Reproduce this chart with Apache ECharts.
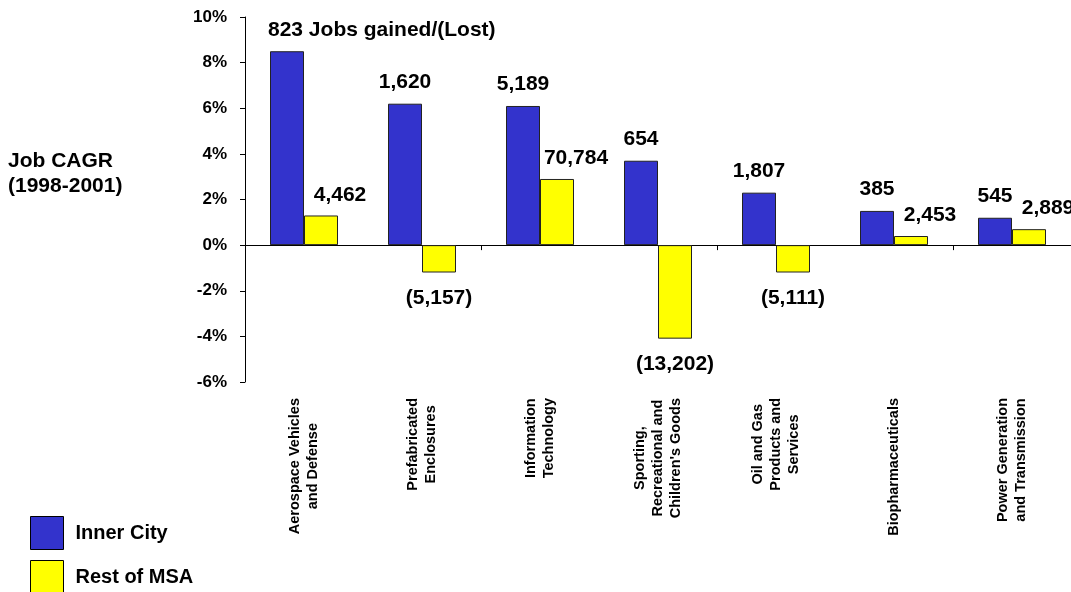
<!DOCTYPE html>
<html>
<head>
<meta charset="utf-8">
<script src="https://cdn.jsdelivr.net/npm/echarts@6/dist/echarts.min.js"></script>
<style>
  html, body { margin: 0; padding: 0; background: #ffffff; }
  #chart { width: 1071px; height: 592px; }
</style>
</head>
<body>
<div id="chart"></div>
<script>
// Industry clusters
const categories = [
  'Aerospace Vehicles\nand Defense',
  'Prefabricated\nEnclosures',
  'Information\nTechnology',
  "Sporting,\nRecreational and\nChildren's Goods",
  'Oil and Gas\nProducts and\nServices',
  'Biopharmaceuticals',
  'Power Generation\nand Transmission'
];

// Job CAGR 1998-2001, percent
const innerCityCagr = [8.5, 6.2, 6.1, 3.7, 2.3, 1.5, 1.2];
const restOfMsaCagr = [1.3, -1.2, 2.9, -4.1, -1.2, 0.4, 0.7];

// Jobs gained / (lost)
const innerCityJobs = [823, 1620, 5189, 654, 1807, 385, 545];
const restOfMsaJobs = [4462, -5157, 70784, -13202, -5111, 2453, 2889];

// Y axis ticks
const yMin = -6, yMax = 10, yStep = 2;

const FONT = "'Liberation Sans', Arial, Helvetica, sans-serif";

function fmtJobs(n) {
  const s = Math.abs(n).toLocaleString('en-US');
  return n < 0 ? '(' + s + ')' : s;
}

const chart = echarts.init(document.getElementById('chart'), null, { renderer: 'canvas' });

const barLabel = {
  show: true,
  fontFamily: FONT,
  fontWeight: 'bold',
  fontSize: 21,
  color: '#000'
};

const innerData = innerCityCagr.map((v, i) => {
  const item = {
    value: v,
    label: {
      position: 'top',
      distance: 11,
      formatter: () => i === 0 ? fmtJobs(innerCityJobs[i]) + ' Jobs gained/(Lost)' : fmtJobs(innerCityJobs[i])
    }
  };
  if (i === 0) {
    item.label.align = 'left';
    item.label.offset = [-19, 0];
  }
  return item;
});

const restData = restOfMsaCagr.map((v, i) => ({
  value: v,
  label: v >= 0
    ? { position: 'top', distance: 10, offset: [19, 0], formatter: () => fmtJobs(restOfMsaJobs[i]) }
    : { position: 'bottom', distance: 15, formatter: () => fmtJobs(restOfMsaJobs[i]) }
}));

const option = {
  backgroundColor: '#ffffff',
  animation: false,
  textStyle: { fontFamily: FONT },
  title: {
    text: 'Job CAGR\n(1998-2001)',
    left: 8,
    top: 149,
    padding: 0,
    textStyle: {
      fontFamily: FONT,
      fontWeight: 'bold',
      fontSize: 21,
      lineHeight: 25,
      color: '#000'
    }
  },
  legend: {
    orient: 'vertical',
    left: 30,
    top: 516,
    height: 90,
    padding: 0,
    itemWidth: 33,
    itemHeight: 33,
    itemGap: 10,
    icon: 'rect',
    selectedMode: false,
    itemStyle: { borderColor: '#000', borderWidth: 1 },
    textStyle: {
      fontFamily: FONT,
      fontWeight: 'bold',
      fontSize: 20,
      color: '#000',
      padding: [0, 0, 0, 7]
    },
    data: ['Inner City', 'Rest of MSA']
  },
  grid: {
    left: 245,
    top: 17,
    width: 835,
    height: 365,
    containLabel: false
  },
  xAxis: [
    {
      // zero line with category separators
      type: 'category',
      data: categories,
      position: 'bottom',
      axisLine: { show: true, onZero: true, lineStyle: { color: '#000', width: 1 } },
      axisTick: { show: true, length: 5, lineStyle: { color: '#000' } },
      axisLabel: { show: false },
      splitLine: { show: false }
    },
    {
      // category names along the bottom of the plot
      type: 'category',
      data: categories,
      position: 'bottom',
      axisLine: { show: false, onZero: false },
      axisTick: { show: false },
      splitLine: { show: false },
      axisLabel: {
        show: true,
        interval: 0,
        rotate: 90,
        margin: 16,
        formatter: (val) => val.split('\n').map(s => '{c|' + s + '}').join('\n'),
        rich: {
          c: {
            align: 'center',
            fontFamily: FONT,
            fontWeight: 'bold',
            fontSize: 14.5,
            lineHeight: 18,
            color: '#000'
          }
        }
      }
    }
  ],
  yAxis: {
    type: 'value',
    min: yMin,
    max: yMax,
    interval: yStep,
    axisLine: { show: true, onZero: false, lineStyle: { color: '#000', width: 1 } },
    axisTick: { show: true, length: 5, lineStyle: { color: '#000' } },
    splitLine: { show: false },
    axisLabel: {
      margin: 18,
      formatter: '{value}%',
      fontFamily: FONT,
      fontWeight: 'bold',
      fontSize: 17,
      color: '#000'
    }
  },
  series: [
    {
      name: 'Inner City',
      type: 'bar',
      xAxisIndex: 0,
      barWidth: 34,
      barGap: '0%',
      itemStyle: { color: '#3333CC', borderColor: '#222', borderWidth: 1 },
      label: barLabel,
      data: innerData
    },
    {
      name: 'Rest of MSA',
      type: 'bar',
      xAxisIndex: 0,
      barWidth: 34,
      barGap: '0%',
      itemStyle: { color: '#FFFF00', borderColor: '#222', borderWidth: 1 },
      label: barLabel,
      data: restData
    }
  ]
};

chart.setOption(option);
</script>
</body>
</html>
